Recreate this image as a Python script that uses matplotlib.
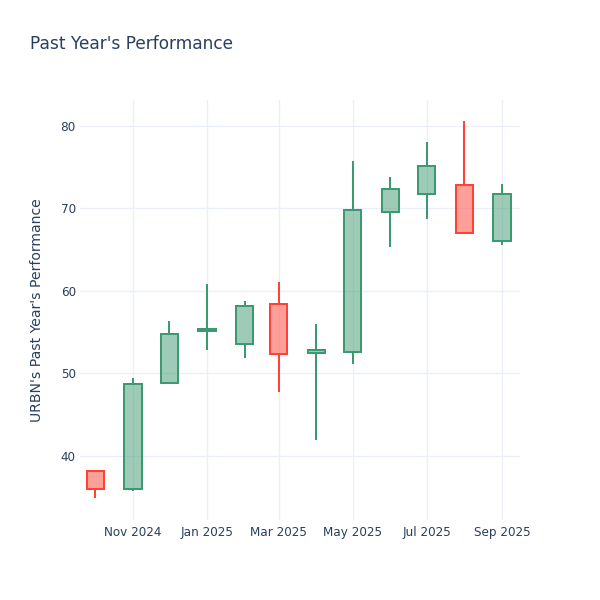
import matplotlib
matplotlib.use("Agg")
import matplotlib.pyplot as plt
import matplotlib.dates as mdates
from datetime import datetime

months = ["2024-10-01", "2024-11-01", "2024-12-01", "2025-01-01", "2025-02-01", "2025-03-01",
          "2025-04-01", "2025-05-01", "2025-06-01", "2025-07-01", "2025-08-01", "2025-09-01"]
opens  = [38.1, 36.0, 48.8, 55.1, 53.5, 58.4, 52.5, 52.6, 69.6, 71.8, 72.9, 66.1]
highs  = [38.1, 49.4, 56.3, 60.8, 58.8, 61.1, 56.0, 75.7, 73.8, 78.1, 80.6, 73.0]
lows   = [34.8, 35.7, 48.7, 52.8, 51.9, 47.7, 41.9, 51.1, 65.3, 68.7, 66.9, 65.5]
closes = [35.9, 48.7, 54.8, 55.4, 58.1, 52.3, 52.8, 69.8, 72.4, 75.2, 67.0, 71.8]

xtick_dates = ["2024-11-01", "2025-01-01", "2025-03-01", "2025-05-01", "2025-07-01", "2025-09-01"]
xtick_labels = ["Nov 2024", "Jan 2025", "Mar 2025", "May 2025", "Jul 2025", "Sep 2025"]
ytick_values = [40, 50, 60, 70, 80]

INC = "#3D9970"
DEC = "#FF4136"
TXT = "#2a3f5f"
GRID = "#EBF0F8"

plt.rcParams['font.family'] = ['DejaVu Sans']

fig = plt.figure(figsize=(6, 6), dpi=100)
ax = fig.add_axes([80/600, 80/600, 440/600, 420/600])

xs = [mdates.date2num(datetime.strptime(d, "%Y-%m-%d")) for d in months]
width = 14.3
for x, o, h, l, c in zip(xs, opens, highs, lows, closes):
    col = INC if c >= o else DEC
    top, bot = max(o, c), min(o, c)
    if h > top:
        ax.plot([x, x], [top, h], color=col, lw=1.44, solid_capstyle='butt', zorder=2)
    if l < bot:
        ax.plot([x, x], [l, bot], color=col, lw=1.44, solid_capstyle='butt', zorder=2)
    ax.bar(x, top - bot, bottom=bot, width=width, facecolor=col, alpha=0.5,
           edgecolor='none', zorder=3)
    ax.bar(x, top - bot, bottom=bot, width=width, facecolor='none',
           edgecolor=col, linewidth=1.44, zorder=4)

xlo = mdates.date2num(datetime(2024, 9, 18, 8))
xhi = mdates.date2num(datetime(2025, 9, 15, 19))
ax.set_xlim(xlo, xhi)
ax.set_ylim(32.18, 83.16)

ax.set_xticks([mdates.date2num(datetime.strptime(d, "%Y-%m-%d")) for d in xtick_dates])
ax.set_xticklabels(xtick_labels)
ax.set_yticks(ytick_values)
ax.set_yticklabels([str(v) for v in ytick_values])

ax.tick_params(axis='both', length=0, labelsize=8.64, labelcolor=TXT)
ax.tick_params(axis='x', pad=4)
ax.tick_params(axis='y', pad=3)
ax.grid(True, color=GRID, linewidth=1)
ax.set_axisbelow(True)
for s in ax.spines.values():
    s.set_visible(False)

ax.set_ylabel("URBN's Past Year's Performance", fontsize=10.08, color=TXT, labelpad=12)
fig.text(30/600, 1 - 44/600, "Past Year's Performance", fontsize=12.24, color=TXT,
         ha='left', va='center')

fig.savefig("out.png", dpi=100, facecolor='white')
